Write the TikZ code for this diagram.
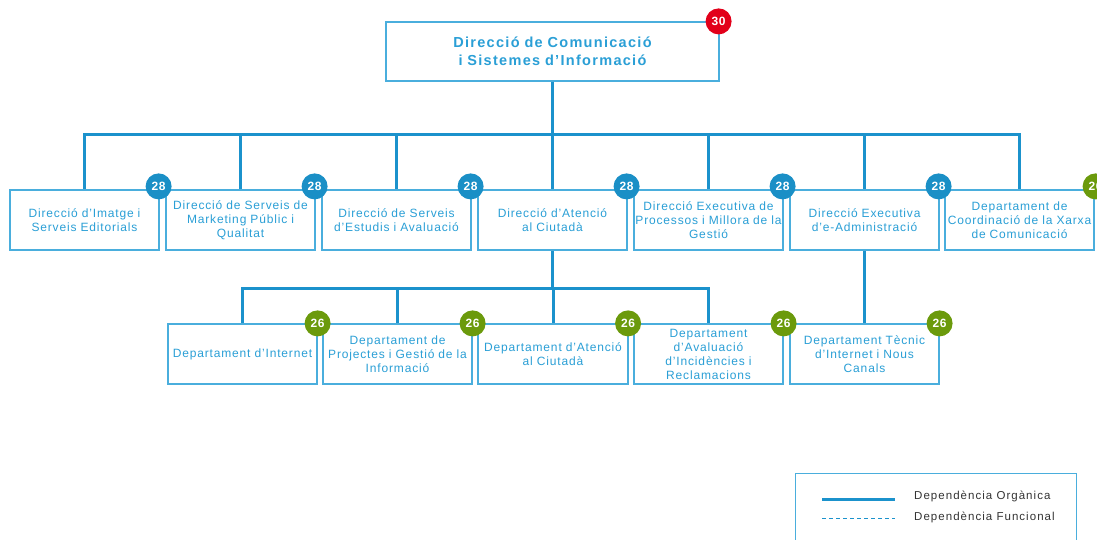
\documentclass[tikz,border=0pt]{standalone}
\usepackage{fontspec}
\setmainfont{Liberation Sans}
\definecolor{lineblue}{HTML}{1B92CC}
\definecolor{boxblue}{HTML}{4AAEDD}
\definecolor{txtblue}{HTML}{2A9FD6}
\definecolor{badgeblue}{HTML}{1A8FC6}
\definecolor{badgegreen}{HTML}{6B9A0C}
\definecolor{badgered}{HTML}{E2001A}
\definecolor{legtxt}{HTML}{333333}
\begin{document}
\begin{tikzpicture}[x=1pt,y=-1pt,
  unit/.style={draw=boxblue, line width=1.2pt, fill=white, minimum width=149pt, minimum height=60pt,
    text width=149pt, align=center, inner sep=0pt, text=txtblue,
    font=\fontsize{12}{14}\selectfont\addfontfeature{LetterSpace=7}},
  topunit/.style={unit, minimum width=333pt, minimum height=59pt, text width=330pt,
    font=\fontsize{14.5}{18}\selectfont\bfseries\addfontfeature{LetterSpace=9}},
  org/.style={draw=lineblue, line width=3pt},
  badge/.style={circle, minimum size=26pt, inner sep=0pt, text=white,
    font=\fontsize{12}{12}\selectfont\bfseries\addfontfeature{LetterSpace=5}},
  bblue/.style={badge, fill=badgeblue},
  bgreen/.style={badge, fill=badgegreen},
  bred/.style={badge, fill=badgered},
  legtext/.style={anchor=west, inner sep=0pt, text=legtxt, font=\fontsize{11.5}{12}\selectfont\addfontfeature{LetterSpace=9}}
]
\useasboundingbox (0,0) rectangle (1097,540);

% nodes
\node[topunit] (top) at (552.5,51.5) {Direcció de Comunicació\\i Sistemes d'Informació};

\node[unit] (d1) at (84.5,220) {Direcció d'Imatge i\\Serveis Editorials};
\node[unit] (d2) at (240.5,220) {Direcció de Serveis de\\Marketing Públic i\\Qualitat};
\node[unit] (d3) at (396.5,220) {Direcció de Serveis\\d'Estudis i Avaluació};
\node[unit] (d4) at (552.5,220) {Direcció d'Atenció\\al Ciutadà};
\node[unit] (d5) at (708.5,220) {Direcció Executiva de\\Processos i Millora de la\\Gestió};
\node[unit] (d6) at (864.5,220) {Direcció Executiva\\d'e-Administració};
\node[unit] (d7) at (1019.5,220) {Departament de\\Coordinació de la Xarxa\\de Comunicació};

\node[unit] (e1) at (242.5,354) {Departament d'Internet};
\node[unit] (e2) at (397.5,354) {Departament de\\Projectes i Gestió de la\\Informació};
\node[unit] (e3) at (553,354) {Departament d'Atenció\\al Ciutadà};
\node[unit] (e4) at (708.5,354) {Departament\\d'Avaluació\\d'Incidències i\\Reclamacions};
\node[unit] (e5) at (864.5,354) {Departament Tècnic\\d'Internet i Nous\\Canals};

% connectors
\coordinate (j1) at (552.5,135);
\coordinate (j2) at (552.5,288);
\draw[org] (top.south) -- (j1);
\foreach \n in {d1,d2,d3,d4,d5,d6,d7} \draw[org] (j1) -| (\n.north);
\draw[org] (d4.south) -- (j2);
\foreach \n in {e1,e2,e3,e4} \draw[org] (j2) -| (\n.north);
\draw[org] (d6.south) -- (e5.north);

% redraw box borders over line ends
\foreach \n in {d1,d2,d3,d4,d5,d6,d7,e1,e2,e3,e4,e5} \draw[draw=boxblue, line width=1.2pt] (\n.north west) rectangle (\n.south east);

% badges
\node[bred] (b0) at ([shift={(-1,0)}]top.north east) {30};
\node[bblue] (b1) at ([shift={(-1,-3)}]d1.north east) {28};
\node[bblue] (b2) at ([shift={(-1,-3)}]d2.north east) {28};
\node[bblue] (b3) at ([shift={(-1,-3)}]d3.north east) {28};
\node[bblue] (b4) at ([shift={(-1,-3)}]d4.north east) {28};
\node[bblue] (b5) at ([shift={(-1,-3)}]d5.north east) {28};
\node[bblue] (b6) at ([shift={(-1,-3)}]d6.north east) {28};
\node[bgreen] (b7) at ([shift={(1,-3)}]d7.north east) {26};
\node[bgreen] (c1) at (e1.north east) {26};
\node[bgreen] (c2) at (e2.north east) {26};
\node[bgreen] (c3) at (e3.north east) {26};
\node[bgreen] (c4) at (e4.north east) {26};
\node[bgreen] (c5) at (e5.north east) {26};

% legend
\node[draw=boxblue, line width=1.2pt, minimum width=281pt, minimum height=80pt, anchor=north west, inner sep=0pt] (leg) at (795,473) {};
\coordinate (l1a) at (822,499);
\coordinate (l1b) at (895,499);
\coordinate (l2a) at (822,518);
\coordinate (l2b) at (895,518);
\draw[org] (l1a) -- (l1b);
\draw[draw=lineblue, line width=0.8pt, dash pattern=on 4pt off 3pt] (l2a) -- (l2b);
\node[legtext] (t1) at (914,496.5) {Dependència Orgànica};
\node[legtext] (t2) at (914,517) {Dependència Funcional};
\end{tikzpicture}
\end{document}
